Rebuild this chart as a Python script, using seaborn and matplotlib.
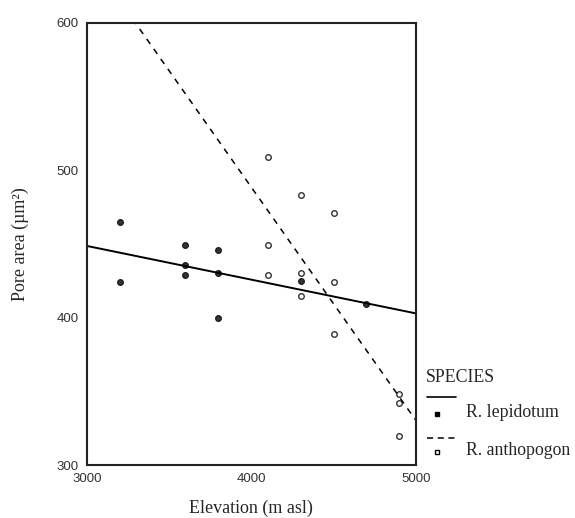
import matplotlib
matplotlib.use("Agg")
import matplotlib.pyplot as plt
from matplotlib.lines import Line2D
import seaborn as sns
import pandas as pd

# R. lepidotum (filled)
lep_elev = [3200, 3200, 3600, 3600, 3600, 3800, 3800, 3800, 4300, 4700]
lep_pore = [465, 424, 449, 436, 429, 446, 430, 400, 425, 409]
# R. anthopogon (open)
ant_elev = [4100, 4100, 4100, 4300, 4300, 4300, 4500, 4500, 4500, 4900, 4900, 4900]
ant_pore = [509, 449, 429, 483, 430, 415, 471, 424, 389, 348, 342, 320]

x_ticks = [3000, 4000, 5000]
y_ticks = [300, 400, 500, 600]

lep = pd.DataFrame({"elev": lep_elev, "pore": lep_pore})
ant = pd.DataFrame({"elev": ant_elev, "pore": ant_pore})

sns.set_style("white")
serif = ["Liberation Serif", "DejaVu Serif"]

fig = plt.figure(figsize=(5.75, 5.18), dpi=100)
ax = fig.add_axes([0.151, 0.102, 0.572, 0.854])
ax.set_xlim(3000, 5000)
ax.set_ylim(300, 600)

sns.regplot(data=lep, x="elev", y="pore", ax=ax, ci=None, truncate=False,
            scatter_kws=dict(s=18, color="black", edgecolor="black", linewidths=0.8),
            line_kws=dict(color="black", lw=1.4))
sns.regplot(data=ant, x="elev", y="pore", ax=ax, ci=None, truncate=False,
            scatter_kws=dict(s=16, facecolor="white", edgecolor="black", linewidths=1.0),
            line_kws=dict(color="black", lw=1.1, ls=(0, (4, 4))))

ax.set_xlim(3000, 5000)
ax.set_ylim(300, 600)
ax.set_xticks(x_ticks)
ax.set_yticks(y_ticks)
ax.tick_params(length=2, width=1, labelsize=9.5, colors="#333333", pad=4)
for lbl in ax.get_xticklabels() + ax.get_yticklabels():
    lbl.set_family("Liberation Sans")
for sp in ax.spines.values():
    sp.set_color("#222222")
    sp.set_linewidth(1.5)

ax.set_xlabel("Elevation (m asl)", family=serif, fontsize=13, labelpad=10)
ax.set_ylabel("Pore area (µm²)", family=serif, fontsize=13, labelpad=20)

# legend, drawn like the SPSS style: line above its marker
fig.text(0.741, 0.272, "SPECIES", family=serif, fontsize=12.8, va="center")
fig.add_artist(Line2D([0.743, 0.793], [0.234, 0.234], color="black", lw=1.2))
fig.add_artist(Line2D([0.760], [0.201], marker="s", ms=3.5, color="black"))
fig.text(0.810, 0.203, "R. lepidotum", family=serif, fontsize=12.8, va="center")
fig.add_artist(Line2D([0.743, 0.793], [0.154, 0.154], color="black", lw=1.1, ls=(0, (4, 3))))
fig.add_artist(Line2D([0.760], [0.127], marker="s", ms=3.5, mfc="white", mec="black", mew=1))
fig.text(0.810, 0.131, "R. anthopogon", family=serif, fontsize=12.8, va="center")

fig.savefig("out.png", dpi=100)
